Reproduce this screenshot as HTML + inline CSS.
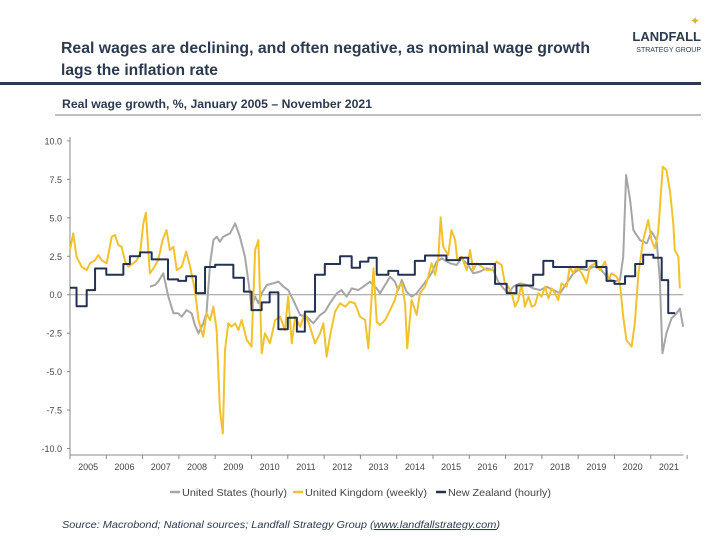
<!DOCTYPE html>
<html><head><meta charset="utf-8"><style>
body{margin:0;width:720px;height:540px;background:#fff;overflow:hidden;font-family:"Liberation Sans",sans-serif}
svg{display:block}
</style></head><body>
<svg id="chart" width="720" height="540" xmlns="http://www.w3.org/2000/svg">
<text x="61" y="53" font-size="16" font-weight="bold" fill="#2b3a4f" textLength="529" lengthAdjust="spacingAndGlyphs">Real wages are declining, and often negative, as nominal wage growth</text>
<text x="61" y="75" font-size="16" font-weight="bold" fill="#2b3a4f" textLength="157" lengthAdjust="spacingAndGlyphs">lags the inflation rate</text>
<g>
<text x="700" y="25" font-size="12" fill="#d9b13b" text-anchor="end">✦</text>
<text x="701" y="41" font-size="13" fill="#2b3a4f" text-anchor="end" font-weight="bold">LANDFALL</text>
<text x="701" y="52" font-size="7" fill="#2b3a4f" text-anchor="end">STRATEGY GROUP</text>
</g>
<rect x="0" y="82" width="701" height="3" fill="#2b3a4f"/>
<text x="62" y="108" font-size="12" font-weight="bold" fill="#2b3a4f" textLength="310" lengthAdjust="spacingAndGlyphs">Real wage growth, %, January 2005 – November 2021</text>
<line x1="55" y1="115" x2="701" y2="115" stroke="#555" stroke-width="0.8"/>
<g id="axes"></g>
<g id="series"></g>
<g id="legend"></g>
<text x="62" y="528" font-size="10.5" font-style="italic" fill="#2b3a4f" textLength="438" lengthAdjust="spacingAndGlyphs">Source: Macrobond; National sources; Landfall Strategy Group (<tspan text-decoration="underline">www.landfallstrategy.com</tspan>)</text>
</svg>
<script>
const yTicks=[10,7.5,5,2.5,0,-2.5,-5,-7.5,-10];
const yearLabels=[2005,2006,2007,2008,2009,2010,2011,2012,2013,2014,2015,2016,2017,2018,2019,2020,2021];
const usT=[2007.20,2007.34,2007.43,2007.57,2007.71,2007.85,2007.98,2008.08,2008.21,2008.35,2008.44,2008.54,2008.67,2008.76,2008.86,2008.95,2009.04,2009.13,2009.22,2009.41,2009.55,2009.68,2009.82,2009.91,2010.00,2010.10,2010.19,2010.28,2010.42,2010.60,2010.74,2010.88,2011.01,2011.15,2011.34,2011.52,2011.70,2011.89,2012.02,2012.16,2012.35,2012.48,2012.62,2012.76,2012.94,2013.08,2013.26,2013.45,2013.54,2013.68,2013.82,2013.95,2014.04,2014.14,2014.27,2014.41,2014.55,2014.69,2014.83,2014.96,2015.10,2015.24,2015.47,2015.65,2015.79,2015.97,2016.11,2016.29,2016.48,2016.66,2016.80,2016.94,2017.08,2017.21,2017.40,2017.58,2017.76,2017.95,2018.13,2018.31,2018.50,2018.68,2018.87,2019.05,2019.23,2019.42,2019.60,2019.79,2019.97,2020.15,2020.24,2020.32,2020.43,2020.52,2020.70,2020.89,2021.02,2021.16,2021.25,2021.32,2021.43,2021.57,2021.71,2021.80,2021.89];
const usV=[0.52,0.63,0.85,1.39,-0.13,-1.21,-1.21,-1.43,-1.0,-1.21,-1.97,-2.51,-1.86,-1.21,2.04,3.55,3.77,3.45,3.77,3.99,4.64,3.77,2.47,0.95,-0.78,-0.13,-0.56,0.09,0.63,0.74,0.85,0.52,0.30,-0.35,-1.32,-1.43,-1.86,-1.32,-1.11,-0.56,0.09,0.30,-0.13,0.41,0.30,0.52,0.85,0.41,0.09,0.63,1.17,0.85,0.30,0.95,0.20,-0.13,0.09,0.52,0.95,1.39,2.15,2.36,2.04,1.93,2.36,1.93,1.39,1.50,1.71,1.60,0.85,0.41,0.09,0.52,0.74,0.63,0.41,0.30,0.52,0.30,0.09,0.74,1.39,1.71,1.60,1.82,1.71,1.17,0.85,0.95,2.47,7.78,6.16,4.20,3.55,3.34,4.10,3.55,0.95,-3.81,-2.51,-1.54,-1.21,-0.89,-2.08];
const ukT=[2005.00,2005.09,2005.18,2005.32,2005.46,2005.55,2005.69,2005.78,2005.87,2006.01,2006.15,2006.24,2006.33,2006.42,2006.52,2006.61,2006.74,2006.84,2006.93,2007.02,2007.09,2007.20,2007.30,2007.43,2007.55,2007.66,2007.75,2007.85,2007.94,2008.08,2008.20,2008.31,2008.44,2008.54,2008.67,2008.76,2008.86,2008.95,2009.04,2009.13,2009.21,2009.27,2009.36,2009.45,2009.55,2009.64,2009.73,2009.87,2010.00,2010.10,2010.19,2010.28,2010.37,2010.51,2010.65,2010.79,2010.92,2011.01,2011.11,2011.20,2011.34,2011.47,2011.61,2011.75,2011.89,2011.98,2012.07,2012.16,2012.30,2012.44,2012.58,2012.71,2012.85,2012.99,2013.13,2013.22,2013.36,2013.45,2013.54,2013.68,2013.82,2013.95,2014.04,2014.14,2014.23,2014.29,2014.41,2014.55,2014.64,2014.78,2014.87,2014.96,2015.06,2015.15,2015.21,2015.28,2015.42,2015.51,2015.61,2015.67,2015.79,2015.93,2016.02,2016.11,2016.20,2016.34,2016.48,2016.61,2016.75,2016.89,2016.98,2017.07,2017.17,2017.26,2017.35,2017.44,2017.53,2017.63,2017.72,2017.81,2017.90,2017.99,2018.09,2018.18,2018.27,2018.36,2018.45,2018.54,2018.68,2018.77,2018.86,2018.96,2019.10,2019.23,2019.32,2019.46,2019.60,2019.74,2019.83,2019.92,2020.06,2020.15,2020.24,2020.33,2020.47,2020.56,2020.66,2020.79,2020.93,2021.02,2021.11,2021.20,2021.33,2021.43,2021.53,2021.62,2021.66,2021.76,2021.80];
const ukV=[2.90,3.99,2.47,1.82,1.60,2.04,2.25,2.58,2.25,2.04,3.77,3.88,3.23,3.12,2.15,1.82,2.04,2.25,2.69,4.64,5.33,1.39,1.71,2.25,3.55,4.20,2.90,3.12,1.60,1.82,2.80,1.82,0.30,-1.65,-2.73,-1.21,-1.65,-0.78,-2.30,-7.50,-9.02,-3.60,-1.86,-2.08,-1.86,-2.30,-1.65,-2.95,-3.38,2.90,3.55,-3.81,-2.51,-3.16,-1.65,-1.43,-2.30,-0.13,-3.16,-1.43,-2.08,-1.21,-2.08,-3.16,-2.51,-1.86,-4.03,-2.73,-1.11,-0.56,-0.78,-0.46,-0.56,-1.43,-1.65,-3.49,1.71,-1.76,-1.97,-1.65,-1.0,-0.35,0.52,0.74,-0.56,-3.49,-0.35,-1.32,0.09,0.52,1.17,2.04,1.28,2.47,5.03,3.12,2.58,4.20,3.55,2.25,2.47,1.60,2.90,1.60,2.04,1.82,1.60,1.60,2.15,1.93,0.74,0.52,0.09,-0.78,-0.35,0.74,-0.78,-0.13,-0.78,-0.67,0.09,-0.13,0.52,-0.24,0.41,0.09,-0.35,0.74,0.52,1.82,1.39,1.82,1.39,0.74,1.82,2.04,1.60,2.15,0.95,1.39,1.17,0.74,-1.43,-2.95,-3.38,-1.86,1.39,3.55,4.85,3.55,3.01,3.99,8.32,8.11,6.70,4.64,2.90,2.47,0.41];
const nzT=[2005.00,2005.18,2005.46,2005.69,2006.00,2006.47,2006.65,2006.93,2007.25,2007.70,2007.98,2008.20,2008.47,2008.72,2009.00,2009.50,2009.79,2010.00,2010.28,2010.50,2010.74,2011.00,2011.25,2011.47,2011.75,2012.02,2012.44,2012.76,2012.99,2013.22,2013.45,2013.77,2014.04,2014.50,2014.78,2015.37,2015.74,2015.97,2016.71,2017.03,2017.30,2017.76,2018.04,2018.31,2019.23,2019.50,2019.78,2020.00,2020.29,2020.57,2020.79,2021.07,2021.30,2021.48,2021.67];
const nzV=[0.45,-0.75,0.3,1.7,1.3,2.0,2.5,2.75,2.3,1.0,0.9,1.2,0.1,1.8,1.95,1.1,0.2,-1.0,-0.5,0.15,-2.25,-1.5,-2.4,-1.1,1.3,2.0,2.5,1.75,2.15,2.4,1.3,1.55,1.3,2.2,2.55,2.25,2.4,2.0,0.7,0.1,0.6,1.3,2.2,1.8,2.2,1.8,0.9,0.7,1.2,2.0,2.6,2.4,0.95,-1.2,-1.2];

const NS='http://www.w3.org/2000/svg';
const X0=70,YR=36.3,Y0=294.7,YS=15.38;
const xs=t=>X0+(t-2005)*YR;
const ys=v=>Y0-v*YS;
function mk(tag,attrs,parent){const e=document.createElementNS(NS,tag);for(const k in attrs)e.setAttribute(k,attrs[k]);parent.appendChild(e);return e;}
const axes=document.getElementById('axes');
mk('line',{x1:X0,y1:137,x2:X0,y2:455,stroke:'#888','stroke-width':1},axes);
mk('line',{x1:X0,y1:455,x2:xs(2021.9),y2:455,stroke:'#888','stroke-width':1},axes);
yTicks.forEach(v=>{
  const t=mk('text',{x:62,y:ys(v)+3.5,'font-size':9,fill:'#444','text-anchor':'end'},axes);
  t.textContent=v.toFixed(1);
  
  
  mk('line',{x1:X0-3,y1:ys(v),x2:X0,y2:ys(v),stroke:'#888'},axes);
});
mk('line',{x1:X0,y1:ys(0),x2:xs(2021.9),y2:ys(0),stroke:'#999','stroke-width':1},axes);
yearLabels.forEach(y=>{
  mk('line',{x1:xs(y),y1:455,x2:xs(y),y2:459,stroke:'#888'},axes);
  const t=mk('text',{x:xs(y+0.5),y:470,'font-size':9,fill:'#444','text-anchor':'middle'},axes);
  t.textContent=y;
  
  
});
mk('line',{x1:xs(2022),y1:455,x2:xs(2022),y2:459,stroke:'#888'},axes);
const ser=document.getElementById('series');
function line(T,V,col,name,step){
  let d='';
  for(let i=0;i<T.length;i++){
    if(i===0)d+='M'+xs(T[i])+' '+ys(V[i]);
    else if(step)d+=' L'+xs(T[i])+' '+ys(V[i-1])+' L'+xs(T[i])+' '+ys(V[i]);
    else d+=' L'+xs(T[i])+' '+ys(V[i]);
  }
  const p=mk('path',{d:d,fill:'none',stroke:col,'stroke-width':2,'stroke-linejoin':'round'},ser);
  
  
}
line(usT,usV,'#a6a6a6','us-series',false);
line(ukT,ukV,'#f2c12e','uk-series',false);
line(nzT,nzV,'#243252','nz-series',true);
const lg=document.getElementById('legend');
const items=[['United States (hourly)','#a6a6a6',170,105,'legend-us'],['United Kingdom (weekly)','#f2c12e',293,122,'legend-uk'],['New Zealand (hourly)','#243252',436,103,'legend-nz']];
items.forEach(it=>{
  const g=mk('g',{},lg);
  
  
  mk('line',{x1:it[2],y1:492,x2:it[2]+10,y2:492,stroke:it[1],'stroke-width':2.5},g);
  const t=mk('text',{x:it[2]+12,y:496,'font-size':10.5,fill:'#444',textLength:it[3],lengthAdjust:'spacingAndGlyphs'},g);
  t.textContent=it[0];
});
</script>
</body></html>
